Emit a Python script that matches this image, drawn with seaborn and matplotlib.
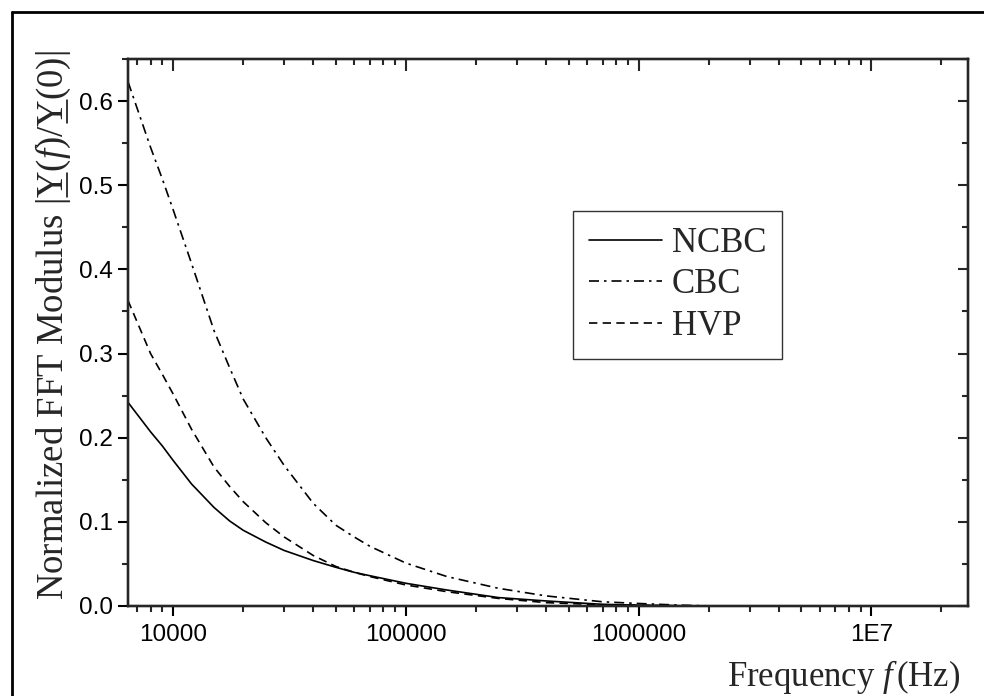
import numpy as np, pandas as pd
import matplotlib
matplotlib.use('Agg')
import matplotlib.pyplot as plt
import seaborn as sns
from matplotlib.ticker import FixedLocator, LogLocator, MultipleLocator, FuncFormatter, NullFormatter
from matplotlib.lines import Line2D

# values
freq = [6400, 8000, 9000, 10000, 12000, 15000, 17500, 20000, 25000, 30000, 40000,
        50000, 60000, 70000, 100000, 150000, 250000, 400000, 700000, 1000000, 1500000, 2100000]
ncbc = [0.242, 0.207, 0.190, 0.173, 0.145, 0.117, 0.101, 0.090, 0.076, 0.066, 0.054,
        0.046, 0.040, 0.036, 0.027, 0.019, 0.010, 0.006, 0.002, 0.001, 0.0003, 0.0]
cbc = [0.623, 0.545, 0.507, 0.471, 0.407, 0.327, 0.283, 0.246, 0.200, 0.167, 0.122,
       0.096, 0.082, 0.071, 0.051, 0.035, 0.021, 0.012, 0.005, 0.003, 0.001, 0.0]
hvp = [0.363, 0.300, 0.275, 0.252, 0.210, 0.165, 0.142, 0.124, 0.099, 0.082, 0.060,
       0.047, 0.040, 0.035, 0.025, 0.017, 0.009, 0.004, 0.0015, 0.0008, 0.0002, 0.0]
series_names = ['NCBC', 'CBC', 'HVP']
xticks = [1e4, 1e5, 1e6, 1e7]
xticklabels = ['10000', '100000', '1000000', '1E7']

sns.set_style('ticks')
plt.rcParams['font.family'] = ['Liberation Sans', 'DejaVu Sans']
plt.rcParams['mathtext.fontset'] = 'custom'
plt.rcParams['mathtext.rm'] = 'Liberation Serif'
plt.rcParams['mathtext.it'] = 'Liberation Serif:italic'

df = pd.DataFrame({'freq': freq * 3,
                   'val': ncbc + cbc + hvp,
                   'series': sum([[s] * len(freq) for s in series_names], [])})

W, H = 984, 696
fig = plt.figure(figsize=(W/100, H/100), dpi=100)
ax = fig.add_axes([128/W, 90/H, 840/W, 547/H])

dashes = {'NCBC': '', 'CBC': (6, 3, 1.5, 3), 'HVP': (5, 3.2)}
sns.lineplot(data=df, x='freq', y='val', hue='series', style='series',
             palette={s: 'black' for s in series_names}, dashes=dashes,
             linewidth=1.2, ax=ax, legend=True)

ax.set_xscale('log')
xlim = (6400, 2.6e7)
ylim = (0, 0.65)
ax.set_xlim(xlim)
ax.set_ylim(ylim)

ax.xaxis.set_major_locator(FixedLocator(xticks))
ax.xaxis.set_major_formatter(FuncFormatter(lambda v, p: xticklabels[xticks.index(v)] if v in xticks else ''))
ax.xaxis.set_minor_locator(LogLocator(base=10, subs=np.arange(2, 10)))
ax.xaxis.set_minor_formatter(NullFormatter())
ax.yaxis.set_major_locator(MultipleLocator(0.1))
ax.yaxis.set_minor_locator(MultipleLocator(0.05))
ax.yaxis.set_major_formatter(FuncFormatter(lambda v, p: f'{v:.1f}'))

for sp in ax.spines.values():
    sp.set_linewidth(1.6)
    sp.set_color('black')
ax.tick_params(which='major', direction='out', length=7.2, width=1.5, labelsize=17.5, colors='black')
ax.tick_params(axis='x', which='major', pad=6)
ax.tick_params(which='minor', direction='out', length=4, width=1.5)
ax.set_xlabel('')
ax.set_ylabel('')

# inward ticks on top and right
axt = ax.twiny()
axt.set_xscale('log')
axt.set_xlim(xlim)
axt.xaxis.set_major_locator(FixedLocator(xticks))
axt.xaxis.set_minor_locator(LogLocator(base=10, subs=np.arange(2, 10)))
axt.tick_params(which='major', direction='in', length=8.5, width=1.5, labeltop=False)
axt.tick_params(which='minor', direction='in', length=4, width=1.5)
axr = ax.twinx()
axr.set_ylim(ylim)
axr.yaxis.set_major_locator(MultipleLocator(0.1))
axr.yaxis.set_minor_locator(MultipleLocator(0.05))
axr.tick_params(which='major', direction='in', length=7.2, width=1.5, labelright=False)
axr.tick_params(which='minor', direction='in', length=4, width=1.5)
for a in (axt, axr):
    for sp in a.spines.values():
        sp.set_linewidth(1.6)

serif = ['Liberation Serif', 'DejaVu Serif']

# y label, with the two Y underlined
ylab_size = 26.5
x0, y0 = 63, 600  # baseline start, pixels from top-left
parts = ['Normalized FFT Modulus |', 'Y', '($f$)/', 'Y', '(0)|']
full = ''.join(parts)
fig.text(x0/W, 1 - y0/H, full, rotation=90, rotation_mode='anchor', ha='left', va='baseline',
         family=serif, fontsize=ylab_size)
renderer = fig.canvas.get_renderer()
def text_w(s):
    t = fig.text(0, 0, s, family=serif, fontsize=ylab_size)
    w = t.get_window_extent(renderer).width
    t.remove()
    return w
for i in (1, 3):
    a = text_w(''.join(parts[:i])) + 1
    b = text_w(''.join(parts[:i + 1])) - 1
    fig.add_artist(Line2D([(x0 + 4)/W] * 2, [1 - (y0 - a)/H, 1 - (y0 - b)/H],
                          transform=fig.transFigure, color='black', lw=1.1))

# x label at the bottom right
fig.text(960/W, 1 - 686/H, 'Frequency $f\\,$(Hz)', ha='right', va='baseline',
         family=serif, fontsize=25)

handles, labels = ax.get_legend_handles_labels()
leg = ax.legend(handles, labels, loc='upper left', bbox_to_anchor=(0.530, 0.722),
                prop={'family': serif, 'size': 25}, frameon=True, fancybox=False,
                edgecolor='black', handlelength=2.1, handletextpad=0.29,
                labelspacing=0.25, borderpad=0.45, borderaxespad=0)
leg.get_frame().set_linewidth(1.0)
for h in leg.get_lines():
    h.set_linewidth(1.2)

# figure frame (left and top lines)
fig.add_artist(Line2D([12/W, 12/W], [0, 1 - 12/H], transform=fig.transFigure, color='black', lw=2))
fig.add_artist(Line2D([12/W, 1], [1 - 12/H, 1 - 12/H], transform=fig.transFigure, color='black', lw=2))

fig.savefig('out.png', dpi=100, facecolor='white')
